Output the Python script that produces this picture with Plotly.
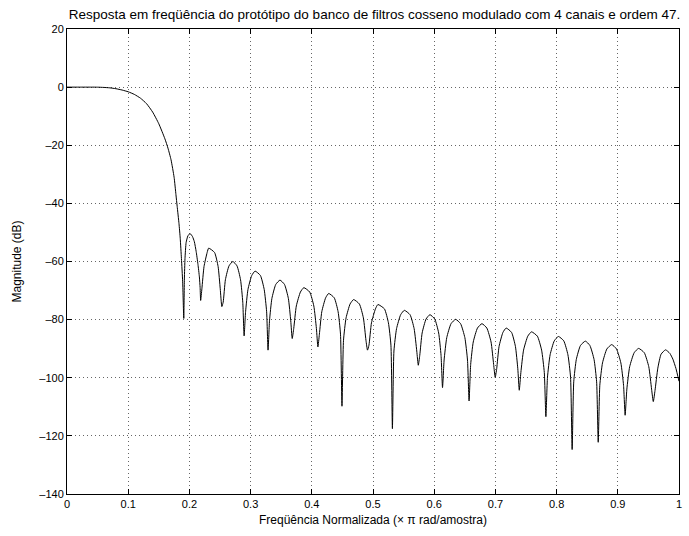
import plotly.graph_objects as go

TITLE = "Resposta em freqüência do protótipo do banco de filtros cosseno modulado com 4 canais e ordem 47."
X_LABEL = "Freqüência Normalizada (× π rad/amostra)"
Y_LABEL = "Magnitude (dB)"

X_TICKS = [0, 0.1, 0.2, 0.3, 0.4, 0.5, 0.6, 0.7, 0.8, 0.9, 1]
X_TICK_TEXT = ["0", "0.1", "0.2", "0.3", "0.4", "0.5", "0.6", "0.7", "0.8", "0.9", "1"]
Y_TICKS = [20, 0, -20, -40, -60, -80, -100, -120, -140]
Y_TICK_TEXT = ["20", "0", "–20", "–40", "–60", "–80", "–100", "–120", "–140"]

# passband and transition band
MAIN_FREQ = [0.0, 0.02, 0.04, 0.05, 0.06, 0.07, 0.08, 0.09, 0.10, 0.11, 0.12, 0.13,
             0.14, 0.15, 0.16, 0.165, 0.17, 0.175, 0.178, 0.18, 0.183, 0.185, 0.187, 0.189]
MAIN_DB = [0.0, 0.0, 0.0, -0.02, -0.1, -0.25, -0.55, -1.0, -1.6, -2.5, -3.8, -5.7,
           -8.6, -12.6, -17.8, -21.0, -25.0, -31.0, -37.0, -41.0, -47.0, -52.0, -59.0, -67.0]

# stopband ripple (nulls, shoulders and lobe peaks)
SIDE_FREQ = [
    0.1908, 0.1918, 0.1928, 0.1946, 0.1975, 0.2011, 0.2050, 0.2081, 0.2110, 0.2140, 0.2163, 0.2175,
    0.2184, 0.2204, 0.2239, 0.2290, 0.2315, 0.2411, 0.2469, 0.2504,
    0.2530, 0.2552, 0.2588, 0.2647, 0.2710, 0.2778, 0.2836, 0.2872,
    0.2894, 0.2918, 0.2957, 0.3019, 0.3073, 0.3160, 0.3222, 0.3262,
    0.3285, 0.3309, 0.3348, 0.3411, 0.3480, 0.3554, 0.3617, 0.3656,
    0.3680, 0.3705, 0.3747, 0.3814, 0.3870, 0.3966, 0.4033, 0.4075,
    0.4100, 0.4124, 0.4163, 0.4226, 0.4276, 0.4367, 0.4430, 0.4469,
    0.4493, 0.4518, 0.4560, 0.4626, 0.4683, 0.4777, 0.4843, 0.4885,
    0.4910, 0.4934, 0.4975, 0.5040, 0.5080, 0.5187, 0.5252, 0.5293,
    0.5317, 0.5342, 0.5385, 0.5452, 0.5512, 0.5605, 0.5672, 0.5715,
    0.5740, 0.5764, 0.5803, 0.5867, 0.5930, 0.6009, 0.6073, 0.6112,
    0.6136, 0.6162, 0.6205, 0.6275, 0.6350, 0.6431, 0.6501, 0.6544,
    0.6570, 0.6596, 0.6638, 0.6707, 0.6780, 0.6860, 0.6929, 0.6971,
    0.6997, 0.7021, 0.7060, 0.7123, 0.7176, 0.7264, 0.7327, 0.7366,
    0.7390, 0.7416, 0.7460, 0.7529, 0.7590, 0.7686, 0.7755, 0.7799,
    0.7825, 0.7851, 0.7894, 0.7962, 0.8030, 0.8117, 0.8185, 0.8228,
    0.8254, 0.8280, 0.8322, 0.8390, 0.8470, 0.8544, 0.8612, 0.8654,
    0.8680, 0.8706, 0.8750, 0.8821, 0.8900, 0.8979, 0.9050, 0.9094,
    0.9120, 0.9148, 0.9194, 0.9267, 0.9340, 0.9433, 0.9506, 0.9552,
    0.9580, 0.9608, 0.9654, 0.9707, 0.9780, 0.9850, 0.9900, 0.9950, 1.0,
]
SIDE_DB = [
    -79.6, -66.0, -59.0, -53.5, -51.2, -50.4, -51.4, -53.2, -56.5, -61.0, -65.3, -69.0,
    -73.4, -69.4, -61.7, -56.9, -55.4, -56.9, -61.7, -69.4,
    -75.5, -74.0, -66.3, -61.5, -60.0, -61.5, -66.3, -74.0,
    -85.6, -77.3, -69.6, -64.8, -63.3, -64.8, -69.6, -77.3,
    -90.5, -80.4, -72.7, -67.9, -66.4, -67.9, -72.7, -80.4,
    -86.5, -83.0, -75.3, -70.5, -69.0, -70.5, -75.3, -83.0,
    -89.4, -85.0, -77.3, -72.5, -71.0, -72.5, -77.3, -85.0,
    -109.8, -87.1, -79.4, -74.6, -73.1, -74.6, -79.4, -87.1,
    -90.5, -88.8, -81.1, -76.3, -74.8, -76.3, -81.1, -88.8,
    -117.5, -90.8, -83.1, -78.3, -76.8, -78.3, -83.1, -90.8,
    -95.7, -92.3, -84.6, -79.8, -78.3, -79.8, -84.6, -92.3,
    -103.4, -93.9, -86.2, -81.4, -79.9, -81.4, -86.2, -93.9,
    -108.0, -95.4, -87.7, -82.9, -81.4, -82.9, -87.7, -95.4,
    -99.9, -96.9, -89.2, -84.4, -82.9, -84.4, -89.2, -96.9,
    -104.3, -98.2, -90.5, -85.7, -84.2, -85.7, -90.5, -98.2,
    -113.4, -99.8, -92.1, -87.3, -85.8, -87.3, -92.1, -99.8,
    -124.7, -101.4, -93.7, -88.9, -87.4, -88.9, -93.7, -101.4,
    -122.2, -102.6, -94.9, -90.1, -88.6, -90.1, -94.9, -102.6,
    -112.9, -103.9, -96.2, -91.4, -89.9, -91.4, -96.2, -103.9,
    -108.2, -104.4, -96.7, -91.9, -90.4, -91.6, -93.6, -96.8, -101.2,
]

freq = MAIN_FREQ + SIDE_FREQ
mag = MAIN_DB + SIDE_DB

FONT = "Liberation Sans, Arial, Helvetica, sans-serif"

fig = go.Figure()
fig.add_trace(go.Scatter(
    x=freq, y=mag, mode="lines",
    line=dict(color="black", width=1, shape="spline", smoothing=0.5),
    hoverinfo="skip", showlegend=False,
))

axis_common = dict(
    showline=True, linecolor="black", linewidth=1, mirror="ticks",
    ticks="inside", ticklen=5, tickcolor="black", tickwidth=1,
    showgrid=True, gridcolor="#666666", gridwidth=1, griddash="1px,3px",
    zeroline=False, tickfont=dict(family=FONT, size=11, color="black"),
)

fig.update_xaxes(
    range=[0, 1], tickvals=X_TICKS, ticktext=X_TICK_TEXT,
    title=dict(text=X_LABEL, font=dict(family=FONT, size=12, color="black"), standoff=6),
    **axis_common,
)
fig.update_yaxes(
    range=[-140, 20], tickvals=Y_TICKS, ticktext=Y_TICK_TEXT,
    title=dict(text=Y_LABEL, font=dict(family=FONT, size=12, color="black"), standoff=15),
    **axis_common,
)

fig.update_layout(
    width=689, height=536,
    margin=dict(l=67, r=7, t=29, b=42),
    paper_bgcolor="white", plot_bgcolor="white",
    title=dict(text=TITLE, x=0.5436, xanchor="center", y=1 - 14 / 536, yanchor="middle",
               font=dict(family=FONT, size=13.5, color="black")),
)

fig.write_html("out.html", config={"displayModeBar": False})
